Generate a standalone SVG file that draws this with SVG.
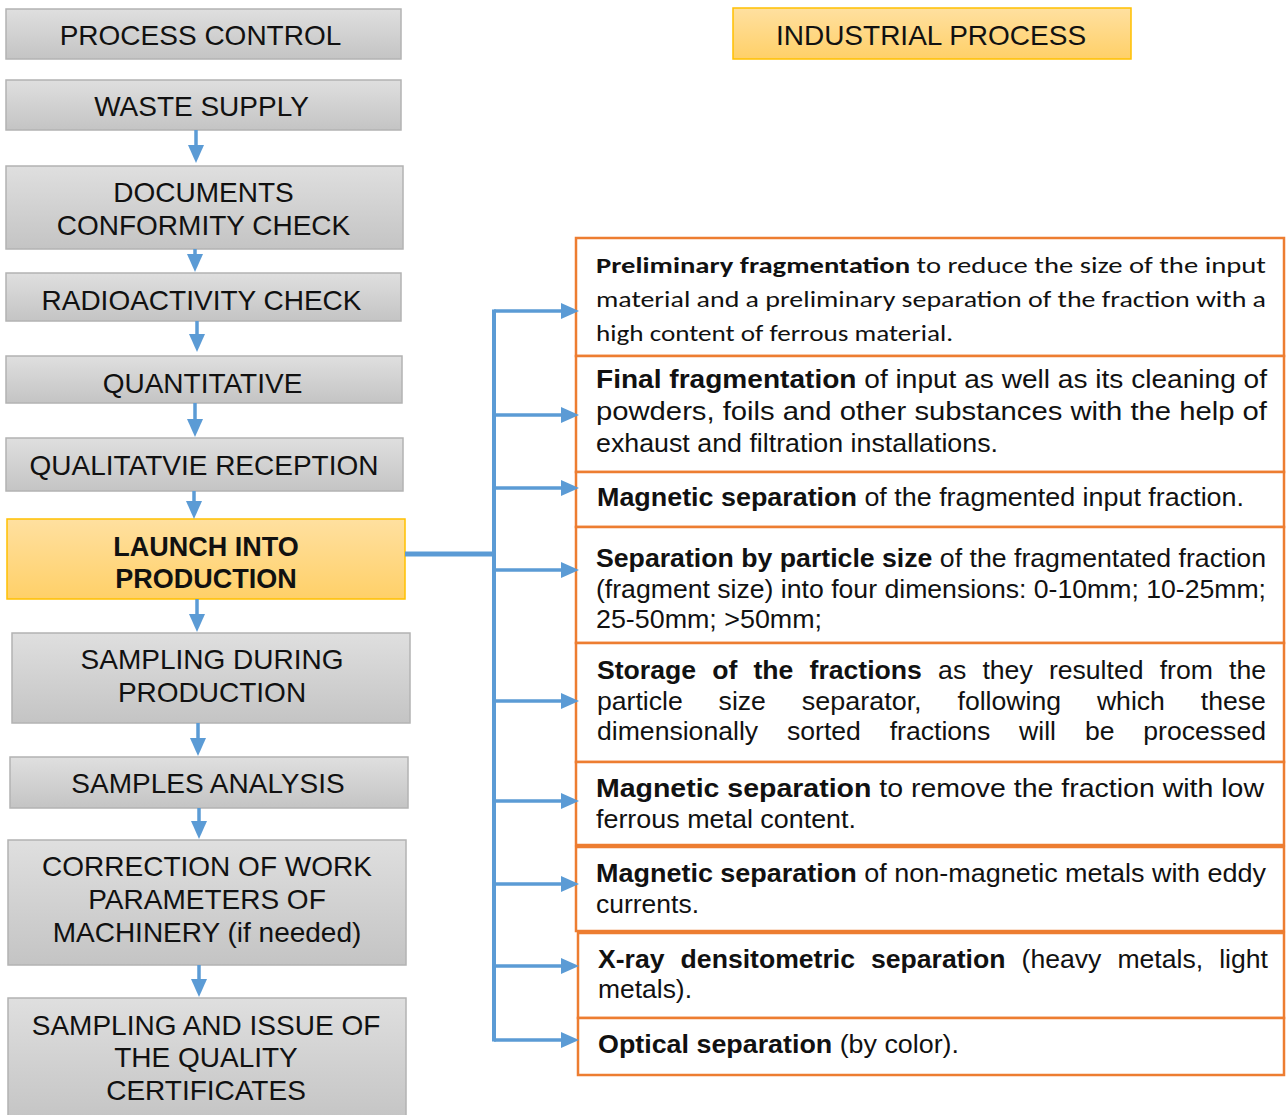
<svg xmlns="http://www.w3.org/2000/svg" width="1286" height="1115" viewBox="0 0 1286 1115">
  <defs>
    <linearGradient id="gGray" x1="0" y1="0" x2="0" y2="1">
      <stop offset="0" stop-color="#dfdfdf"/>
      <stop offset="1" stop-color="#c4c4c4"/>
    </linearGradient>
    <linearGradient id="gGold" x1="0" y1="0" x2="0" y2="1">
      <stop offset="0" stop-color="#ffe0a0"/>
      <stop offset="1" stop-color="#ffd068"/>
    </linearGradient>
    <marker id="ah" markerUnits="userSpaceOnUse" markerWidth="18" markerHeight="16" viewBox="0 0 18 16" refX="6" refY="8" orient="auto">
      <path d="M0,0 L18,8 L0,16 z" fill="#5B9BD5"/>
    </marker>
  </defs>
  <style>
    .step rect { fill: url(#gGray); stroke: #b3b3b3; stroke-width: 1.5; }
    .gold rect { fill: url(#gGold); stroke: #ffc000; stroke-width: 1.5; }
    .lbl { font-family: "Liberation Sans", Arial, sans-serif; font-size: 28px; fill: #111; text-anchor: middle; }
    .lbl.b { font-weight: bold; font-size: 27px; }
    .task rect { fill: #fff; stroke: #ED7D31; stroke-width: 2.5; }
    .rt { font-family: "Liberation Sans", Arial, sans-serif; font-size: 25.5px; fill: #111; }
    .cal { font-family: Carlito, Lato, sans-serif; font-size: 22.5px; fill: #111; }
    .b { font-weight: bold; }
    .wire { stroke: #5B9BD5; stroke-width: 3.5; fill: none; }
  </style>

  <rect width="1286" height="1115" fill="#fff"/>

  <!-- left column: process control steps -->
  <g id="process-control" class="step">
    <rect x="6" y="9" width="395" height="50"/>
    <text class="lbl" x="200.5" y="45">PROCESS CONTROL</text>
  </g>
  <g id="waste-supply" class="step">
    <rect x="6" y="80" width="395" height="50"/>
    <text class="lbl" x="201.5" y="116">WASTE SUPPLY</text>
  </g>
  <g id="documents-check" class="step">
    <rect x="6" y="166" width="397" height="83"/>
    <text class="lbl" x="203.5" y="202">DOCUMENTS</text>
    <text class="lbl" x="203.5" y="235">CONFORMITY CHECK</text>
  </g>
  <g id="radioactivity-check" class="step">
    <rect x="6" y="273" width="395" height="48"/>
    <text class="lbl" x="201.5" y="310">RADIOACTIVITY CHECK</text>
  </g>
  <g id="quantitative" class="step">
    <rect x="6" y="356" width="396" height="47"/>
    <text class="lbl" x="202.5" y="393">QUANTITATIVE</text>
  </g>
  <g id="qualitative-reception" class="step">
    <rect x="6" y="438" width="397" height="53"/>
    <text class="lbl" x="204" y="475">QUALITATVIE RECEPTION</text>
  </g>
  <g id="launch-production" class="gold">
    <rect x="7" y="519" width="398" height="80"/>
    <text class="lbl b" x="206" y="556">LAUNCH INTO</text>
    <text class="lbl b" x="206" y="588">PRODUCTION</text>
  </g>
  <g id="sampling-during" class="step">
    <rect x="12" y="633" width="398" height="90"/>
    <text class="lbl" x="212" y="669">SAMPLING DURING</text>
    <text class="lbl" x="212" y="702">PRODUCTION</text>
  </g>
  <g id="samples-analysis" class="step">
    <rect x="10" y="757" width="398" height="51"/>
    <text class="lbl" x="208" y="793">SAMPLES ANALYSIS</text>
  </g>
  <g id="correction" class="step">
    <rect x="8" y="840" width="398" height="125"/>
    <text class="lbl" x="207" y="876">CORRECTION OF WORK</text>
    <text class="lbl" x="207" y="909">PARAMETERS OF</text>
    <text class="lbl" x="207" y="942">MACHINERY (if needed)</text>
  </g>
  <g id="quality-certificates" class="step">
    <rect x="8" y="998" width="398" height="125"/>
    <text class="lbl" x="206" y="1035">SAMPLING AND ISSUE OF</text>
    <text class="lbl" x="206" y="1067">THE QUALITY</text>
    <text class="lbl" x="206" y="1100">CERTIFICATES</text>
  </g>

  <!-- right column header -->
  <g id="industrial-process" class="gold">
    <rect x="733" y="8" width="398" height="51"/>
    <text class="lbl" x="931" y="45">INDUSTRIAL PROCESS</text>
  </g>

  <!-- right column: industrial operations -->
  <g id="op-preliminary" class="task">
    <rect x="576" y="238" width="708" height="118"/>
    <text class="cal" x="596" y="273" textLength="670" lengthAdjust="spacingAndGlyphs"><tspan class="b">Preliminary fragmentation</tspan> to reduce the size of the input</text>
    <text class="cal" x="596" y="307" textLength="670" lengthAdjust="spacingAndGlyphs">material and a preliminary separation of the fraction with a</text>
    <text class="cal" x="596" y="341" textLength="357" lengthAdjust="spacingAndGlyphs">high content of ferrous material.</text>
  </g>
  <g id="op-final" class="task">
    <rect x="576" y="356" width="708" height="116"/>
    <text class="rt" x="596" y="388" textLength="671" lengthAdjust="spacingAndGlyphs"><tspan class="b">Final fragmentation</tspan> of input as well as its cleaning of</text>
    <text class="rt" x="596" y="420" textLength="671" lengthAdjust="spacingAndGlyphs">powders, foils and other substances with the help of</text>
    <text class="rt" x="596" y="452" textLength="402" lengthAdjust="spacingAndGlyphs">exhaust and filtration installations.</text>
  </g>
  <g id="op-magnetic-1" class="task">
    <rect x="576" y="472" width="708" height="55"/>
    <text class="rt" x="597" y="506" textLength="647" lengthAdjust="spacingAndGlyphs"><tspan class="b">Magnetic separation</tspan> of the fragmented input fraction.</text>
  </g>
  <g id="op-particle-size" class="task">
    <rect x="576" y="527" width="708" height="116"/>
    <text class="rt" x="596" y="567" textLength="670" lengthAdjust="spacingAndGlyphs"><tspan class="b">Separation by particle size</tspan> of the fragmentated fraction</text>
    <text class="rt" x="596" y="598" textLength="670" lengthAdjust="spacingAndGlyphs">(fragment size) into four dimensions: 0-10mm; 10-25mm;</text>
    <text class="rt" x="596" y="628" textLength="226" lengthAdjust="spacingAndGlyphs">25-50mm; &gt;50mm;</text>
  </g>
  <g id="op-storage" class="task">
    <rect x="576" y="643" width="708" height="119"/>
    <g class="rt">
      <text class="b" x="597" y="679" textLength="99" lengthAdjust="spacingAndGlyphs">Storage</text>
      <text class="b" x="712.2" y="679" textLength="25.1" lengthAdjust="spacingAndGlyphs">of</text>
      <text class="b" x="753.5" y="679" textLength="39.9" lengthAdjust="spacingAndGlyphs">the</text>
      <text class="b" x="809.6" y="679" textLength="112.3" lengthAdjust="spacingAndGlyphs">fractions</text>
      <text x="938.1" y="679" textLength="28.1" lengthAdjust="spacingAndGlyphs">as</text>
      <text x="982.4" y="679" textLength="50.3" lengthAdjust="spacingAndGlyphs">they</text>
      <text x="1048.9" y="679" textLength="94.6" lengthAdjust="spacingAndGlyphs">resulted</text>
      <text x="1159.7" y="679" textLength="53.2" lengthAdjust="spacingAndGlyphs">from</text>
      <text x="1229.1" y="679" textLength="37" lengthAdjust="spacingAndGlyphs">the</text>

      <text x="597" y="710" textLength="85.7" lengthAdjust="spacingAndGlyphs">particle</text>
      <text x="718.6" y="710" textLength="47.3" lengthAdjust="spacingAndGlyphs">size</text>
      <text x="801.8" y="710" textLength="119.8" lengthAdjust="spacingAndGlyphs">separator,</text>
      <text x="957.5" y="710" textLength="103.5" lengthAdjust="spacingAndGlyphs">following</text>
      <text x="1096.9" y="710" textLength="68" lengthAdjust="spacingAndGlyphs">which</text>
      <text x="1200.8" y="710" textLength="65.1" lengthAdjust="spacingAndGlyphs">these</text>

      <text x="597" y="740" textLength="161.1" lengthAdjust="spacingAndGlyphs">dimensionally</text>
      <text x="787" y="740" textLength="73.9" lengthAdjust="spacingAndGlyphs">sorted</text>
      <text x="889.7" y="740" textLength="100.5" lengthAdjust="spacingAndGlyphs">fractions</text>
      <text x="1019.1" y="740" textLength="36.9" lengthAdjust="spacingAndGlyphs">will</text>
      <text x="1084.9" y="740" textLength="29.6" lengthAdjust="spacingAndGlyphs">be</text>
      <text x="1143.3" y="740" textLength="122.7" lengthAdjust="spacingAndGlyphs">processed</text>
    </g>
  </g>
  <g id="op-magnetic-2" class="task">
    <rect x="576" y="762" width="708" height="83"/>
    <text class="rt" x="596" y="797" textLength="668" lengthAdjust="spacingAndGlyphs"><tspan class="b">Magnetic separation</tspan> to remove the fraction with low</text>
    <text class="rt" x="596" y="828" textLength="260" lengthAdjust="spacingAndGlyphs">ferrous metal content.</text>
  </g>
  <g id="op-eddy" class="task">
    <rect x="576" y="847" width="708" height="84"/>
    <text class="rt" x="596" y="882" textLength="670" lengthAdjust="spacingAndGlyphs"><tspan class="b">Magnetic separation</tspan> of non-magnetic metals with eddy</text>
    <text class="rt" x="596" y="913" textLength="103" lengthAdjust="spacingAndGlyphs">currents.</text>
  </g>
  <g id="op-xray" class="task">
    <rect x="578" y="933" width="706" height="85"/>
    <g class="rt">
      <text class="b" x="598" y="968" textLength="66.5" lengthAdjust="spacingAndGlyphs">X-ray</text>
      <text class="b" x="680.6" y="968" textLength="174.4" lengthAdjust="spacingAndGlyphs">densitometric</text>
      <text class="b" x="871" y="968" textLength="134.5" lengthAdjust="spacingAndGlyphs">separation</text>
      <text x="1021.6" y="968" textLength="79.8" lengthAdjust="spacingAndGlyphs">(heavy</text>
      <text x="1117.4" y="968" textLength="85.7" lengthAdjust="spacingAndGlyphs">metals,</text>
      <text x="1219.2" y="968" textLength="48.8" lengthAdjust="spacingAndGlyphs">light</text>
    </g>
    <text class="rt" x="598" y="998" textLength="94" lengthAdjust="spacingAndGlyphs">metals).</text>
  </g>
  <g id="op-optical" class="task">
    <rect x="578" y="1018" width="706" height="57"/>
    <text class="rt" x="598" y="1053" textLength="361" lengthAdjust="spacingAndGlyphs"><tspan class="b">Optical separation</tspan> (by color).</text>
  </g>

  <!-- connectors -->
  <g id="connectors" class="wire">
    <line x1="196" y1="130" x2="196" y2="151" marker-end="url(#ah)"/>
    <line x1="195" y1="249" x2="195" y2="260" marker-end="url(#ah)"/>
    <line x1="197" y1="321" x2="197" y2="340" marker-end="url(#ah)"/>
    <line x1="195" y1="403" x2="195" y2="425" marker-end="url(#ah)"/>
    <line x1="194" y1="491" x2="194" y2="507" marker-end="url(#ah)"/>
    <line x1="197" y1="599" x2="197" y2="620" marker-end="url(#ah)"/>
    <line x1="198" y1="723" x2="198" y2="744" marker-end="url(#ah)"/>
    <line x1="199" y1="808" x2="199" y2="827" marker-end="url(#ah)"/>
    <line x1="199" y1="965" x2="199" y2="985" marker-end="url(#ah)"/>

    <line x1="405" y1="554" x2="496" y2="554" stroke-width="5"/>
    <line x1="494" y1="309.5" x2="494" y2="1041.5" stroke-width="4"/>

    <line x1="494" y1="311" x2="567" y2="311" marker-end="url(#ah)"/>
    <line x1="494" y1="415" x2="567" y2="415" marker-end="url(#ah)"/>
    <line x1="494" y1="488" x2="567" y2="488" marker-end="url(#ah)"/>
    <line x1="494" y1="570" x2="567" y2="570" marker-end="url(#ah)"/>
    <line x1="494" y1="701" x2="567" y2="701" marker-end="url(#ah)"/>
    <line x1="494" y1="801" x2="567" y2="801" marker-end="url(#ah)"/>
    <line x1="494" y1="884" x2="567" y2="884" marker-end="url(#ah)"/>
    <line x1="494" y1="966" x2="567" y2="966" marker-end="url(#ah)"/>
    <line x1="494" y1="1040" x2="567" y2="1040" marker-end="url(#ah)"/>
  </g>
</svg>
